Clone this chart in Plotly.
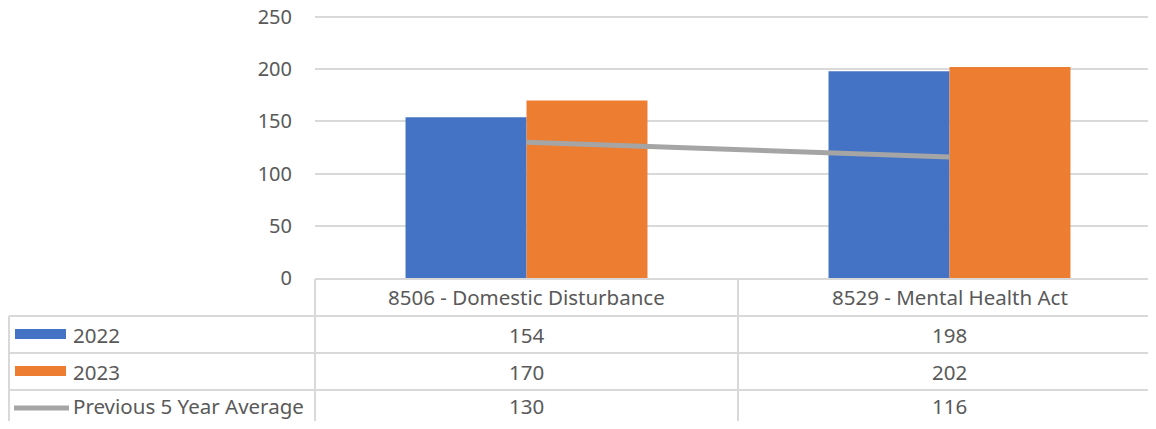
import plotly.graph_objects as go

categories = ['8506 - Domestic Disturbance', '8529 - Mental Health Act']
series_names = ['2022', '2023', 'Previous 5 Year Average']
vals_2022 = [154, 198]
vals_2023 = [170, 202]
avg_5yr = [130, 116]

BLUE = '#4472C4'
ORANGE = '#ED7D31'
GREY = '#A5A5A5'
TXT = '#595959'
GRID = '#D9D9D9'
FONT = 'Noto Sans'

# page body has an 8px margin, so the figure is 16px smaller than the window
OFF = 8
W, H = 1156 - 2 * OFF, 429 - 2 * OFF


def px(x):
    return (x - OFF) / W


def py(y):
    return 1 - (y - OFF) / H


# y scale: 0 sits at 278px, 250 at 17px
Y_TOP = 252
y_top_px = 278 - Y_TOP * (278 - 17) / 250
# x scale: one category is 423px wide, first starts at 315px
x_right = -0.5 + (1148 - 315) / 423

fig = go.Figure()
fig.add_trace(go.Bar(x=[0, 1], y=vals_2022, name=series_names[0], marker_color=BLUE, marker_line_width=0))
fig.add_trace(go.Bar(x=[0, 1], y=vals_2023, name=series_names[1], marker_color=ORANGE, marker_line_width=0))
fig.add_trace(go.Scatter(x=[0, 1], y=avg_5yr, name=series_names[2], mode='lines',
                         line=dict(color=GREY, width=5)))

# table borders
shapes = []
for y, x0 in [(279, 315), (316, 9), (353, 9), (390, 9)]:
    shapes.append(dict(type='line', xref='paper', yref='paper', x0=px(x0), x1=1, y0=py(y), y1=py(y),
                       line=dict(color=GRID, width=2)))
for x, y0 in [(9, 316), (315, 279), (738, 279)]:
    shapes.append(dict(type='line', xref='paper', yref='paper', x0=px(x), x1=px(x), y0=py(y0), y1=0,
                       line=dict(color=GRID, width=2)))

# legend keys inside the table
row_y = [334.5, 371.5, 406]
shapes.append(dict(type='rect', xref='paper', yref='paper', x0=px(15), x1=px(66), y0=py(339), y1=py(329),
                   fillcolor=BLUE, line_width=0))
shapes.append(dict(type='rect', xref='paper', yref='paper', x0=px(15), x1=px(66), y0=py(376), y1=py(366),
                   fillcolor=ORANGE, line_width=0))
shapes.append(dict(type='line', xref='paper', yref='paper', x0=px(14), x1=px(69), y0=py(408), y1=py(408),
                   line=dict(color=GREY, width=5)))

annotations = []
for i, c in enumerate(categories):
    annotations.append(dict(x=i, y=py(297), xref='x', yref='paper', text=c, showarrow=False,
                            xanchor='center', yanchor='middle', font=dict(size=20.5, color=TXT, family=FONT)))
for r, (name, vals) in enumerate(zip(series_names, [vals_2022, vals_2023, avg_5yr])):
    annotations.append(dict(x=px(71), y=py(row_y[r]), xref='paper', yref='paper', text=name, showarrow=False,
                            xanchor='left', yanchor='middle', font=dict(size=20.5, color=TXT, family=FONT)))
    for i, v in enumerate(vals):
        annotations.append(dict(x=i, y=py(row_y[r]), xref='x', yref='paper', text=str(v), showarrow=False,
                                xanchor='center', yanchor='middle', font=dict(size=20.5, color=TXT, family=FONT)))

fig.update_layout(
    width=W, height=H,
    margin=dict(l=0, r=0, t=0, b=0, autoexpand=False),
    paper_bgcolor='white', plot_bgcolor='white',
    showlegend=False,
    barmode='group', bargap=0.428, bargroupgap=0,
    font=dict(family=FONT, color=TXT),
    shapes=shapes,
    annotations=annotations,
    xaxis=dict(domain=[px(315), 1], range=[-0.5, x_right], showticklabels=False, showgrid=False,
               zeroline=False, showline=False, ticks='', automargin=False),
    yaxis=dict(domain=[py(278), py(y_top_px)], range=[0, Y_TOP], tick0=0, dtick=50, showgrid=True,
               gridcolor=GRID, gridwidth=1.5, zeroline=False, showline=False, ticks='',
               ticklabelstandoff=22, ticklabeloverflow='allow', automargin=False,
               tickfont=dict(size=20, color=TXT, family=FONT)),
)

fig.write_html('out.html')
